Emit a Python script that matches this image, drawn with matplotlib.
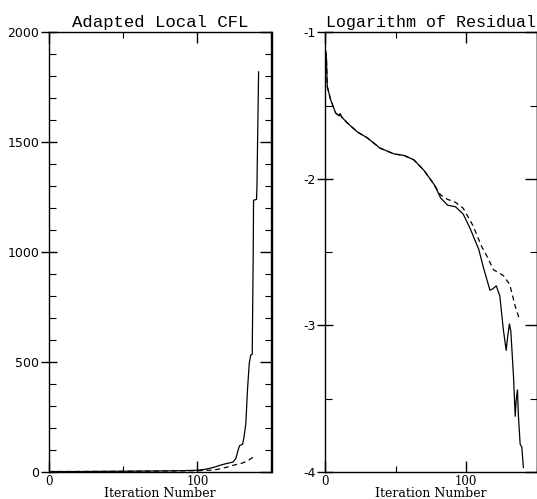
import matplotlib
matplotlib.use("Agg")
import matplotlib.pyplot as plt
from matplotlib.ticker import MultipleLocator, FixedLocator

plt.rcParams["axes.unicode_minus"] = False

# Adapted local CFL number vs iteration (solid and dashed runs)
cfl_iter_solid = [0, 20, 40, 60, 80, 90, 100, 105, 111, 116, 120, 124, 126, 127.5,
                  128.5, 130.5, 131.5, 132.7, 133.8, 135, 136, 137, 137.7, 137.9,
                  139.9, 140.2, 140.6, 141.3]
cfl_solid = [2, 2, 3, 4, 5, 6, 8, 12, 21, 32, 39, 45, 62, 100,
             120, 126, 160, 221, 373, 494, 532, 535, 1009, 1236,
             1240, 1300, 1494, 1820]
cfl_iter_dashed = [0, 50, 100, 111, 116, 120, 125, 130, 133.8, 137, 140]
cfl_dashed = [2, 3, 6, 9, 15, 22, 32, 40, 50, 65, 67]

# Logarithm of residual vs iteration
res_iter_solid = [0.5, 1, 1.6, 4, 7.5, 10, 10.6, 12, 16, 23, 30, 39, 49, 56, 63, 70,
                  77.5, 82, 87, 92.5, 98, 103, 109, 112.5, 117, 119, 121.5, 124,
                  126.5, 128.5, 129.5, 130.8, 131.8, 133.7, 134.9, 135.6, 136.5,
                  137.2, 138.4, 139.6, 140.7]
res_solid = [-1.13, -1.17, -1.37, -1.46, -1.55, -1.57, -1.555, -1.58, -1.62, -1.68,
             -1.72, -1.79, -1.83, -1.84, -1.87, -1.94, -2.04, -2.13, -2.18, -2.19,
             -2.24, -2.34, -2.48, -2.61, -2.76, -2.75, -2.73, -2.80, -3.03, -3.17,
             -3.08, -2.99, -3.04, -3.35, -3.62, -3.51, -3.44, -3.62, -3.81, -3.83,
             -3.97]
res_iter_dashed = [0.5, 1, 1.6, 4, 7.5, 10, 10.6, 12, 16, 23, 30, 39, 49, 56, 63, 70,
                   77.5, 82, 87, 92.5, 98, 105, 111, 115, 119.5, 126.5, 131, 134.9,
                   137.3, 139.6]
res_dashed = [-1.13, -1.17, -1.37, -1.46, -1.55, -1.57, -1.555, -1.58, -1.62, -1.68,
              -1.72, -1.79, -1.83, -1.84, -1.87, -1.94, -2.04, -2.11, -2.14, -2.16,
              -2.20, -2.32, -2.46, -2.53, -2.62, -2.66, -2.72, -2.87, -2.94, -2.95]

titles = ["Adapted Local CFL", "Logarithm of Residual"]
xlabel = "Iteration Number"

fig = plt.figure(figsize=(5.37, 4.99), dpi=100)
ax1 = fig.add_axes([49 / 537, 27 / 499, 222.5 / 537, 439.7 / 499])
ax2 = fig.add_axes([325 / 537, 27 / 499, 211.5 / 537, 439.7 / 499])


def style(ax, ymajor, yminor, title, tsize):
    for s in ax.spines.values():
        s.set_linewidth(1.0)
    ax.set_xlim(0, 150)
    ax.xaxis.set_major_locator(FixedLocator([0, 100]))
    ax.xaxis.set_minor_locator(FixedLocator([50, 150]))
    ax.yaxis.set_major_locator(MultipleLocator(ymajor))
    ax.yaxis.set_minor_locator(MultipleLocator(yminor))
    ax.tick_params(axis="x", which="both", direction="in", top=True, pad=2)
    ax.tick_params(axis="x", which="major", length=8, width=1.0)
    ax.tick_params(axis="x", which="minor", length=4, width=0.8)
    ax.tick_params(axis="y", which="major", direction="inout", length=11,
                   width=1.0, pad=1.5, right=False)
    ax.tick_params(axis="y", which="minor", direction="in", length=5,
                   width=0.8, right=False)
    for lab in ax.get_xticklabels():
        lab.set_fontfamily("DejaVu Serif")
        lab.set_fontsize(8.5)
    for lab in ax.get_yticklabels():
        lab.set_fontfamily("DejaVu Sans")
        lab.set_fontsize(9)
    sec = ax.secondary_yaxis("right")
    sec.yaxis.set_major_locator(MultipleLocator(ymajor))
    sec.yaxis.set_minor_locator(MultipleLocator(yminor))
    sec.tick_params(which="major", direction="in", length=9, width=1.0, labelright=False)
    sec.tick_params(which="minor", direction="in", length=5, width=0.8)
    sec.spines["right"].set_linewidth(1.0)
    ax.set_title(title, fontfamily="Liberation Mono", fontsize=tsize, pad=4)
    ax.set_xlabel(xlabel, fontfamily="DejaVu Serif", fontsize=9)
    ax.xaxis.set_label_coords(0.5, -0.034)


ax1.plot(cfl_iter_solid, cfl_solid, color="black", lw=0.9)
ax1.plot(cfl_iter_dashed, cfl_dashed, color="black", lw=0.9, dashes=(4, 3))
ax1.set_ylim(0, 2000)
style(ax1, 500, 100, titles[0], 12.5)

ax2.plot(res_iter_solid, res_solid, color="black", lw=0.9)
ax2.plot(res_iter_dashed, res_dashed, color="black", lw=0.9, dashes=(4, 3))
ax2.set_ylim(-4, -1)
style(ax2, 1, 0.5, titles[1], 12)

fig.savefig("out.png", dpi=100)
